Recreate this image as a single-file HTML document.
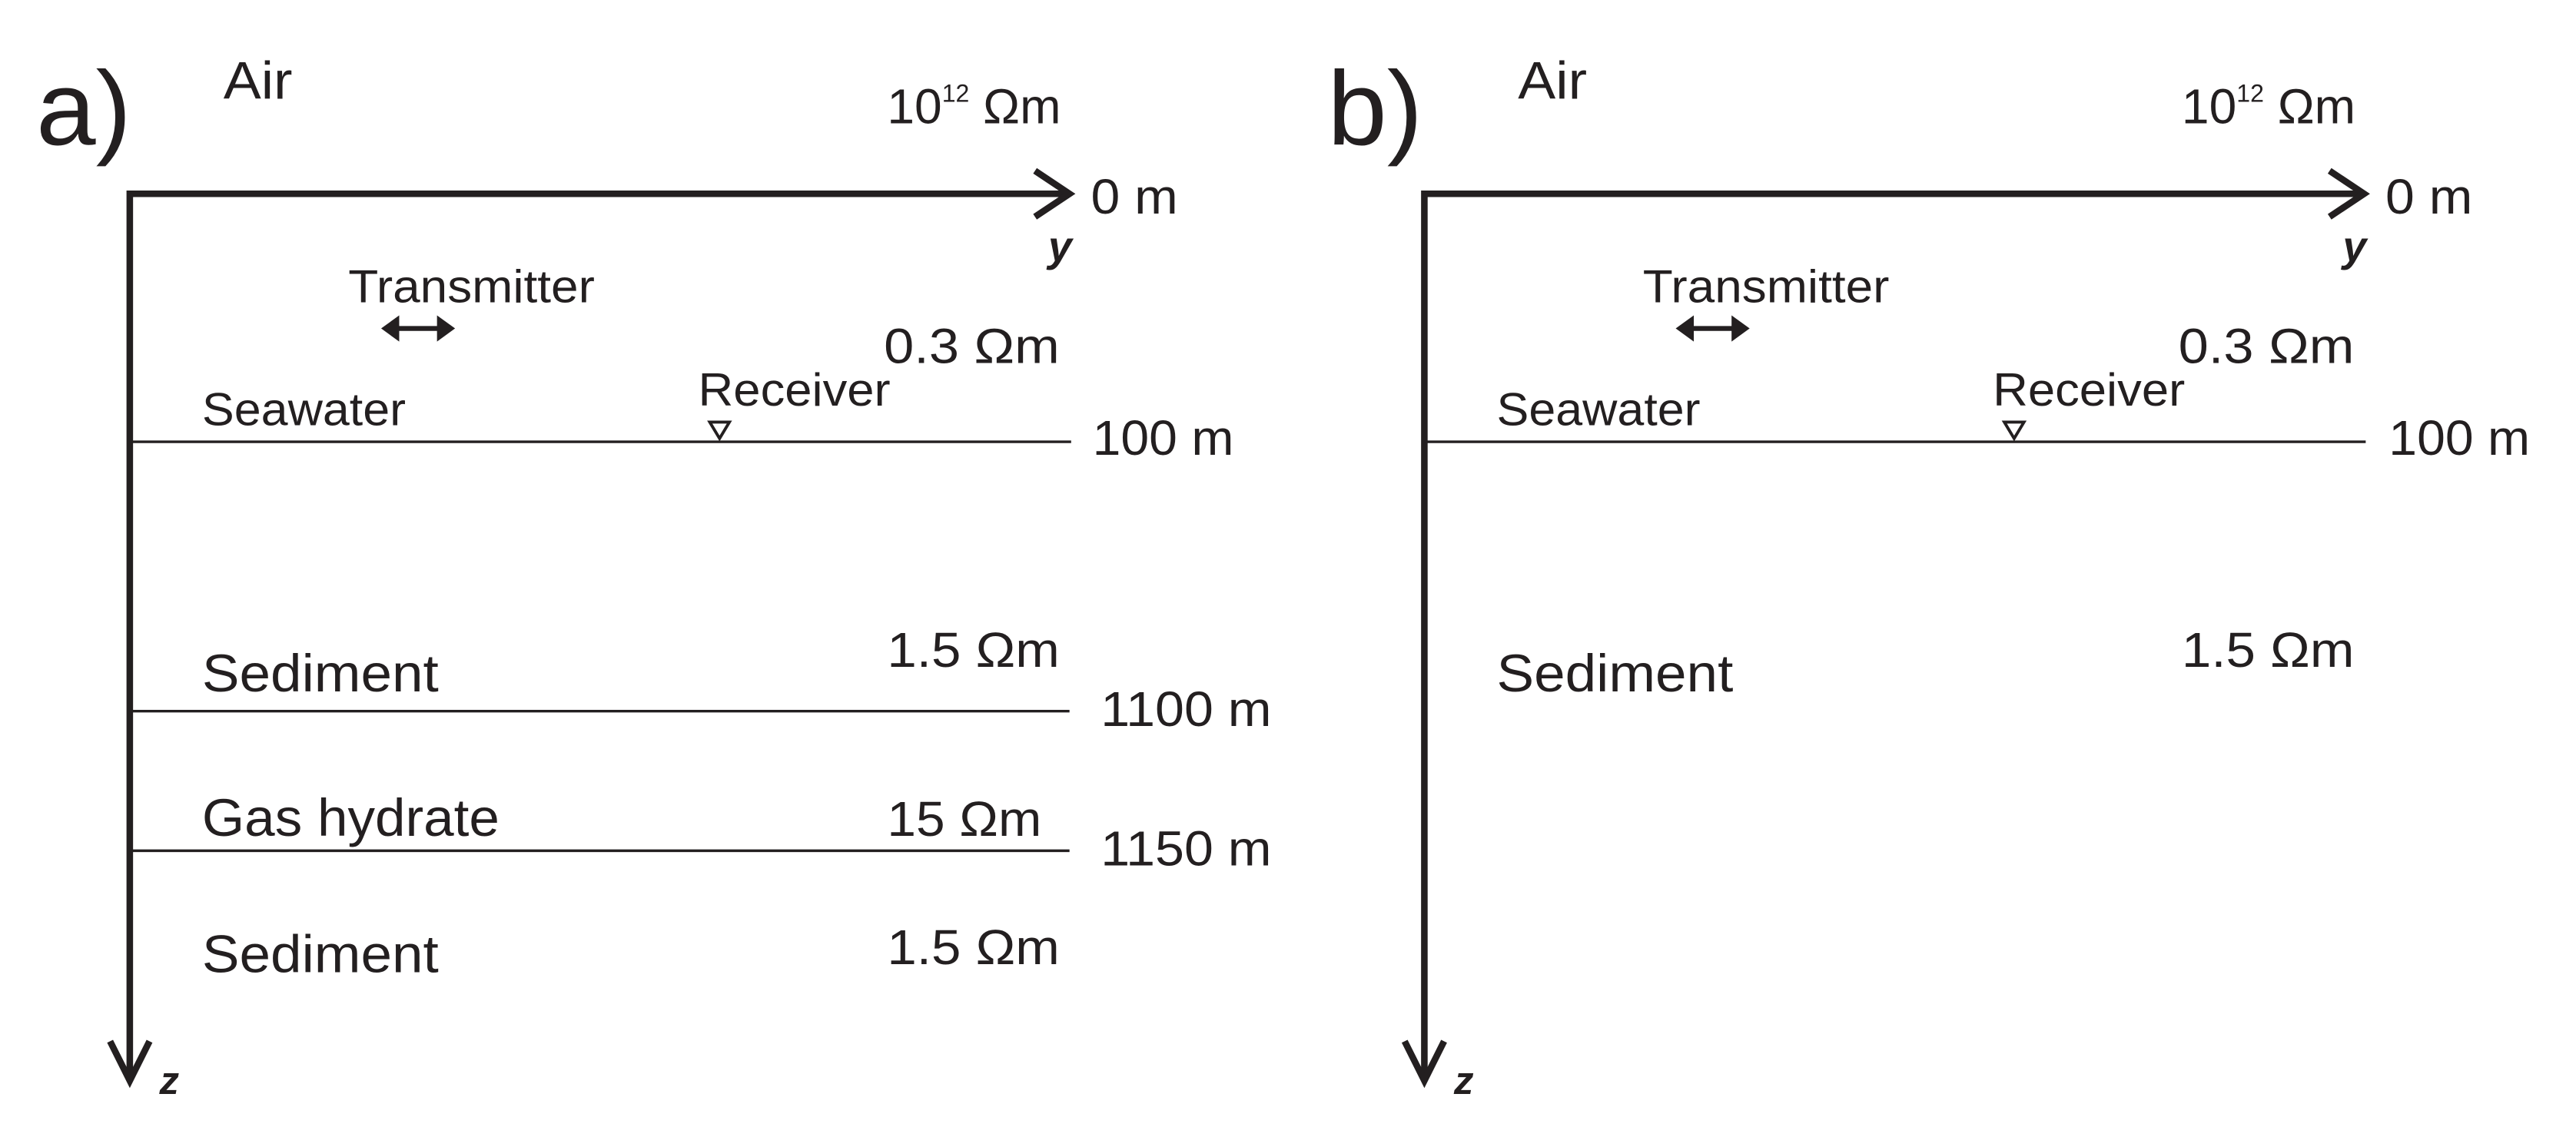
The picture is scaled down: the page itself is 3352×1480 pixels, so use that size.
<!DOCTYPE html>
<html><head><meta charset="utf-8"><style>
html,body{margin:0;padding:0;background:#fff;}
svg{display:block;}
text{font-family:"Liberation Sans",Arial,sans-serif;fill:#231f20;}
</style></head><body>
<svg width="3352" height="1480" viewBox="0 0 1568 692.3" preserveAspectRatio="none" xmlns="http://www.w3.org/2000/svg">
<defs>
<g id="panel">
  <text x="136" y="60" font-size="32" textLength="42" lengthAdjust="spacingAndGlyphs">Air</text>
  <text x="540" y="75" font-size="30">10<tspan font-size="15" dy="-13">12</tspan><tspan dy="13"> Ωm</tspan></text>
  <polyline points="79,658 79,118 650,118" fill="none" stroke="#231f20" stroke-width="4"/>
  <polyline points="630,104 651,118 630,132" fill="none" stroke="#231f20" stroke-width="4"/>
  <polyline points="67,634 79,658 91,634" fill="none" stroke="#231f20" stroke-width="4"/>
  <text x="664" y="130" font-size="30" textLength="53" lengthAdjust="spacingAndGlyphs">0 m</text>
  <text x="638" y="159" font-size="26" font-style="italic" font-weight="bold">y</text>
  <text x="97" y="666" font-size="24" font-style="italic" font-weight="bold">z</text>
  <text x="212" y="184" font-size="28" textLength="150" lengthAdjust="spacingAndGlyphs">Transmitter</text>
  <line x1="240" y1="200" x2="268" y2="200" stroke="#231f20" stroke-width="3"/>
  <polygon points="232,200 243,192 243,208" fill="#231f20"/>
  <polygon points="277,200 266,192 266,208" fill="#231f20"/>
  <text x="538" y="221" font-size="30" textLength="107" lengthAdjust="spacingAndGlyphs">0.3 Ωm</text>
  <text x="425" y="247" font-size="28" textLength="117" lengthAdjust="spacingAndGlyphs">Receiver</text>
  <polygon points="432,257 444,257 438,267" fill="none" stroke="#231f20" stroke-width="1.8"/>
  <text x="123" y="259" font-size="28" textLength="124" lengthAdjust="spacingAndGlyphs">Seawater</text>
  <line x1="79" y1="269" x2="652" y2="269" stroke="#231f20" stroke-width="1.6"/>
  <text x="540" y="406" font-size="30" textLength="105" lengthAdjust="spacingAndGlyphs">1.5 Ωm</text>
  <text x="123" y="421" font-size="32" textLength="144" lengthAdjust="spacingAndGlyphs">Sediment</text>
</g>
</defs>
<text x="22" y="88" font-size="64" textLength="58" lengthAdjust="spacingAndGlyphs">a)</text>
<use href="#panel"/>
<text x="665" y="277" font-size="30" textLength="86" lengthAdjust="spacingAndGlyphs">100 m</text>
<line x1="79" y1="433" x2="651" y2="433" stroke="#231f20" stroke-width="1.6"/>
<text x="670" y="442" font-size="30" textLength="104" lengthAdjust="spacingAndGlyphs">1100 m</text>
<text x="123" y="509" font-size="32" textLength="181" lengthAdjust="spacingAndGlyphs">Gas hydrate</text>
<text x="540" y="509" font-size="30" textLength="94" lengthAdjust="spacingAndGlyphs">15 Ωm</text>
<line x1="79" y1="518" x2="651" y2="518" stroke="#231f20" stroke-width="1.6"/>
<text x="670" y="527" font-size="30" textLength="104" lengthAdjust="spacingAndGlyphs">1150 m</text>
<text x="123" y="592" font-size="32" textLength="144" lengthAdjust="spacingAndGlyphs">Sediment</text>
<text x="540" y="587" font-size="30" textLength="105" lengthAdjust="spacingAndGlyphs">1.5 Ωm</text>

<text x="808" y="88" font-size="64" textLength="58" lengthAdjust="spacingAndGlyphs">b)</text>
<use href="#panel" x="788"/>
<text x="1454" y="277" font-size="30" textLength="86" lengthAdjust="spacingAndGlyphs">100 m</text>
</svg>
</body></html>
